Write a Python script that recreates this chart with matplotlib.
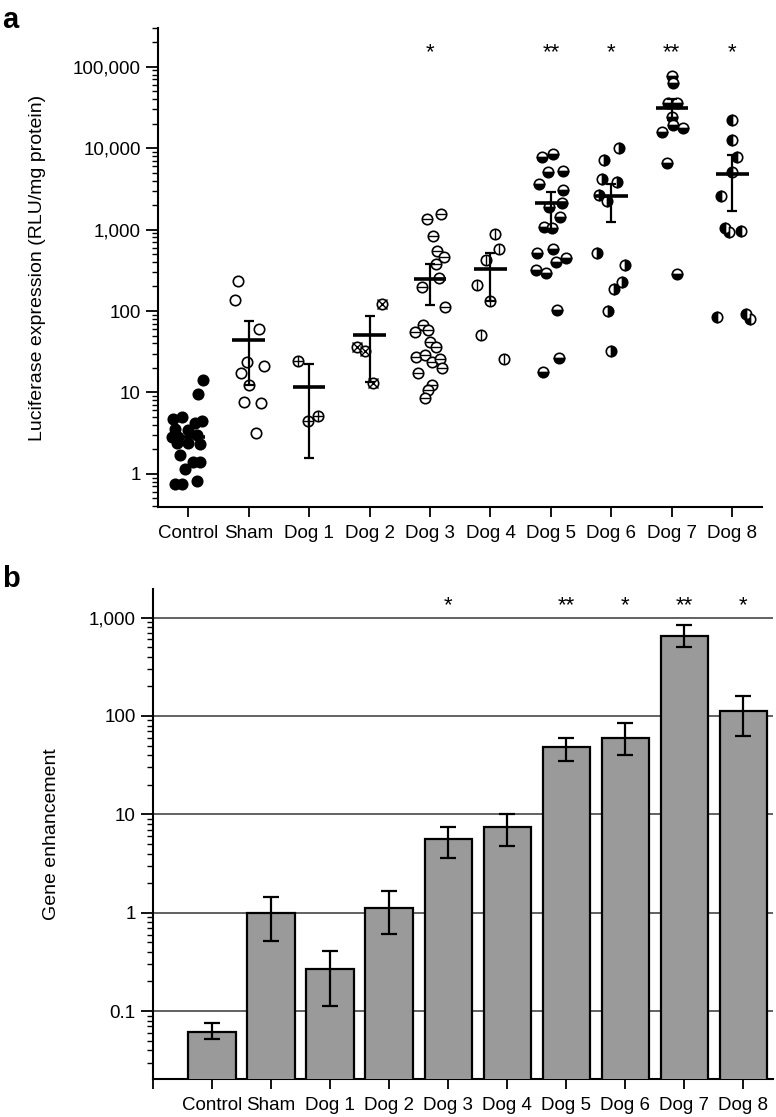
import numpy as np
import matplotlib
matplotlib.use("Agg")
import matplotlib.pyplot as plt
import matplotlib.ticker as mticker

plt.rcParams.update({
    "font.family": ["Liberation Sans", "DejaVu Sans"],
    "font.size": 13.5,
    "axes.linewidth": 1.5,
    "axes.spines.top": False,
    "axes.spines.right": False,
})

# ---------------------------------------------------------------------------
# Data
# ---------------------------------------------------------------------------

groups = ["Control", "Sham", "Dog 1", "Dog 2", "Dog 3",
          "Dog 4", "Dog 5", "Dog 6", "Dog 7", "Dog 8"]
stars = ["", "", "", "", "*", "", "**", "*", "**", "*"]

# panel a: individual measurements (RLU/mg protein) and horizontal jitter
control_vals = [14.2, 9.6, 4.7, 5.0, 4.5, 4.2, 3.6, 3.5, 2.85, 3.0, 2.4,
                2.3, 1.7, 1.4, 1.4, 1.15, 0.82, 0.76, 0.76, 2.4, 2.8]
control_jit = [0.25, 0.17, -0.25, -0.1, 0.23, 0.12, -0.22, 0.0, -0.17, 0.15,
               -0.18, 0.2, -0.13, 0.08, 0.2, -0.05, 0.15, -0.22, -0.1, 0.0, -0.27]
sham_vals = [234, 136, 60, 23.7, 21, 17.4, 12.4, 7.6, 7.4, 3.2]
sham_jit = [-0.17, -0.22, 0.17, -0.03, 0.25, -0.13, 0.0, -0.08, 0.2, 0.12]
dog1_vals = [24.3, 4.5, 5.1]
dog1_jit = [-0.18, -0.02, 0.15]
dog2_vals = [122, 36, 32, 13.1]
dog2_jit = [0.2, -0.2, -0.08, 0.05]
dog3_vals = [1350, 1550, 830, 545, 460, 380, 255, 196, 112, 55, 67, 58, 42,
             36, 27, 29, 23.7, 26, 20, 17.3, 12.3, 10.7, 8.6]
dog3_jit = [-0.05, 0.18, 0.05, 0.12, 0.23, 0.1, 0.15, -0.13, 0.25, -0.25,
            -0.12, -0.03, 0.0, 0.1, -0.23, -0.08, 0.03, 0.17, 0.2, -0.2,
            0.03, -0.03, -0.08]
dog4_vals = [880, 575, 425, 210, 132, 51, 25.8]
dog4_jit = [0.07, 0.14, -0.08, -0.23, 0.0, -0.15, 0.22]
dog5_vals = [7760, 8500, 5070, 5200, 3600, 3060, 2110, 1900, 1420, 1070, 1050,
             515, 575, 445, 400, 318, 292, 103, 26.5, 17.9]
dog5_jit = [-0.15, 0.03, -0.05, 0.2, -0.2, 0.2, 0.18, -0.03, 0.15, -0.12, 0.02,
            -0.23, 0.03, 0.25, 0.08, -0.25, -0.08, 0.1, 0.13, -0.13]
dog6_vals = [10000, 7100, 4160, 3850, 2660, 2240, 515, 365, 226, 186, 100, 32]
dog6_jit = [0.12, -0.12, -0.15, 0.1, -0.2, -0.07, -0.23, 0.23, 0.18, 0.05,
            -0.05, 0.0]
dog7_vals = [76000, 64000, 36000, 36000, 24000, 19000, 15700, 17700, 6600, 285]
dog7_jit = [0.0, 0.02, -0.07, 0.08, 0.0, 0.02, -0.17, 0.18, -0.08, 0.08]
dog8_vals = [22000, 12500, 7800, 5070, 2570, 1050, 930, 950, 84, 92, 80]
dog8_jit = [0.0, 0.0, 0.08, 0.0, -0.18, -0.12, -0.05, 0.15, -0.25, 0.22, 0.3]

points_vals = [control_vals, sham_vals, dog1_vals, dog2_vals, dog3_vals,
               dog4_vals, dog5_vals, dog6_vals, dog7_vals, dog8_vals]
points_jit = [control_jit, sham_jit, dog1_jit, dog2_jit, dog3_jit,
              dog4_jit, dog5_jit, dog6_jit, dog7_jit, dog8_jit]

mean_a = [2.84, 44, 11.7, 51, 245, 327, 2110, 2600, 31000, 4800]
hi_a = [3.4, 75.5, 22.4, 87, 380, 515, 2900, 3600, 40000, 8200]
lo_a = [2.3, 12.3, 1.57, 13.5, 118, 132, 980, 1240, 22000, 1690]

# panel b: gene enhancement relative to sham
gene_enh = [0.062, 1.0, 0.27, 1.12, 5.6, 7.5, 48, 60, 656, 112]
gene_hi = [0.0756, 1.45, 0.41, 1.67, 7.5, 10.1, 60, 84, 850, 160]
gene_lo = [0.052, 0.52, 0.114, 0.61, 3.6, 4.8, 35, 40, 508, 63]

# marker style per group
STYLES = [
    dict(mfc="k", fill="full", inner=None),
    dict(mfc="white", fill="full", inner=None),
    dict(mfc="white", fill="full", inner="+"),
    dict(mfc="white", fill="full", inner="x"),
    dict(mfc="white", fill="full", inner="_"),
    dict(mfc="white", fill="full", inner="|"),
    dict(mfc="k", fill="bottom", inner=None),
    dict(mfc="k", fill="right", inner=None),
    dict(mfc="k", fill="bottom", inner=None),
    dict(mfc="k", fill="left", inner=None),
]


def comma_fmt(v, pos):
    if v >= 1:
        return f"{v:,.0f}"
    return f"{v:g}"


def style_log_yaxis(ax):
    ax.set_yscale("log")
    ax.yaxis.set_major_locator(mticker.LogLocator(base=10, numticks=20))
    ax.yaxis.set_minor_locator(mticker.LogLocator(base=10, subs=np.arange(2, 10),
                                                  numticks=20))
    ax.yaxis.set_major_formatter(mticker.FuncFormatter(comma_fmt))
    ax.yaxis.set_minor_formatter(mticker.NullFormatter())
    ax.tick_params(axis="y", which="major", length=9, width=1.3, labelsize=13.5)
    ax.tick_params(axis="y", which="minor", length=4.5, width=1.0)
    ax.tick_params(axis="x", which="major", length=7, width=1.3, labelsize=13.5, pad=6)


fig = plt.figure(figsize=(7.76, 11.17), dpi=100)

# ---------------------------------------------------------------------------
# Panel a: scatter of individual measurements
# ---------------------------------------------------------------------------
ax_a = fig.add_axes([0.2036, 0.546, 0.779, 0.429])
x = np.arange(len(groups))

for i, (vals, jit, st) in enumerate(zip(points_vals, points_jit, STYLES)):
    xs = i + np.array(jit)
    ax_a.plot(xs, vals, ls="none", marker="o", ms=7.5, mew=1.2,
              mec="k", mfc=st["mfc"], fillstyle=st["fill"],
              markerfacecoloralt="white", zorder=3)
    if st["inner"]:
        ax_a.plot(xs, vals, ls="none", marker=st["inner"], ms=6.5, mew=1.0,
                  color="k", zorder=4)

mean_a = np.array(mean_a)
ax_a.errorbar(x, mean_a, yerr=[mean_a - np.array(lo_a), np.array(hi_a) - mean_a],
              fmt="none", ecolor="k", elinewidth=1.6, capsize=3.5, capthick=1.6,
              zorder=5)
ax_a.hlines(mean_a, x - 0.27, x + 0.27, colors="k", linewidth=2.6, zorder=5)

for i, s in enumerate(stars):
    if s:
        ax_a.text(i, 151000, s, ha="center", va="center", fontsize=16)

style_log_yaxis(ax_a)
ax_a.set_xlim(-0.5, 9.5)
ax_a.set_ylim(0.39, 300000)
ax_a.set_xticks(x)
ax_a.set_xticklabels(groups)
ax_a.set_ylabel("Luciferase expression (RLU/mg protein)", fontsize=14)
ax_a.yaxis.set_label_coords(-0.185, 0.5)

# ---------------------------------------------------------------------------
# Panel b: gene enhancement bars
# ---------------------------------------------------------------------------
ax_b = fig.add_axes([0.197, 0.034, 0.799, 0.439])
gene_enh = np.array(gene_enh)
ax_b.bar(x, gene_enh, width=0.8, color="#9a9a9a", edgecolor="k",
         linewidth=1.6, zorder=3)
ax_b.errorbar(x, gene_enh,
              yerr=[gene_enh - np.array(gene_lo), np.array(gene_hi) - gene_enh],
              fmt="none", ecolor="k", elinewidth=1.6, capsize=6, capthick=1.6,
              zorder=4)

for i, s in enumerate(stars):
    if s:
        ax_b.text(i, 1320, s, ha="center", va="center", fontsize=16)

style_log_yaxis(ax_b)
ax_b.set_xlim(-1, 9.5)
ax_b.set_ylim(0.0204, 1970)
ax_b.set_xticks(np.arange(-1, len(groups)))
ax_b.set_xticklabels([""] + groups)
ax_b.yaxis.grid(True, which="major", color="#555555", linewidth=1.3)
ax_b.set_axisbelow(True)
ax_b.set_ylabel("Gene enhancement", fontsize=14)
ax_b.yaxis.set_label_coords(-0.15, 0.5)

fig.text(0.003, 0.975, "a", fontsize=21, fontweight="bold", va="baseline")
fig.text(0.003, 1 - 587 / 1117, "b", fontsize=21, fontweight="bold", va="baseline")

fig.savefig("out.png", dpi=100)
